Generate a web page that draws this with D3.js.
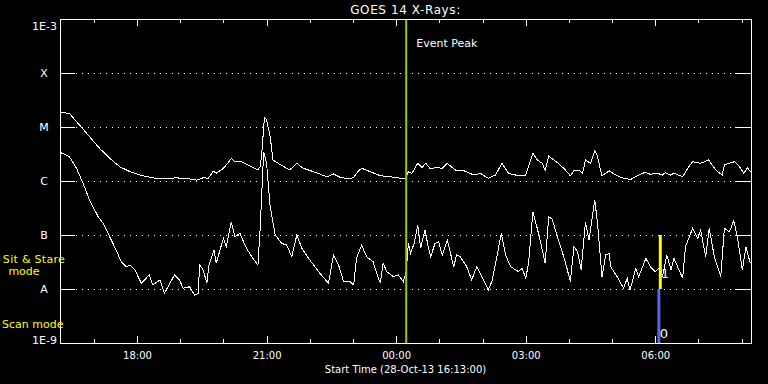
<!DOCTYPE html>
<html>
<head>
<meta charset="utf-8">
<script src="https://cdn.jsdelivr.net/npm/d3@7"></script>
<style>
  html, body { margin: 0; padding: 0; background: #000; }
  svg { display: block; }
  text { font-family: "DejaVu Sans", sans-serif; fill: #fff; }
</style>
</head>
<body>
<svg id="chart" width="768" height="384"></svg>
<script>
// GOES 14 X-ray flux, minutes after 28-Oct-13 16:13 UT
const longMinutes = [0,13,27,41,55,69,83,97,111,125,139,152,162,166,180,190,199,206,213,217,
  227,231,238,243,252,264,275,278,280,284,287,292,296,303,319,329,338,352,371,380,
  389,403,408,415,419,431,445,459,480,484,489,497,503,508,514,524,531,538,549,561,
  575,584,595,605,614,623,633,647,651,657,663,670,674,679,686,695,702,709,714,721,
  726,730,737,743,746,753,763,772,783,793,802,813,820,830,837,841,848,853,865,872,
  879,890,901,911,920,923,937,944,950,955,960];
const longFlux = [1.87e-5,1.79e-5,1.09e-5,6.6e-6,4.03e-6,2.63e-6,1.84e-6,1.49e-6,1.29e-6,1.17e-6,
  1.09e-6,1.09e-6,1.17e-6,1.12e-6,1.09e-6,1.04e-6,1.15e-6,1.12e-6,1.53e-6,1.39e-6,
  1.72e-6,1.98e-6,2.63e-6,2.28e-6,2.28e-6,1.90e-6,1.60e-6,1.84e-6,2.82e-6,1.51e-5,
  1.35e-5,6.6e-6,2.45e-6,2.13e-6,1.60e-6,2.13e-6,1.72e-6,1.49e-6,1.20e-6,1.35e-6,
  1.17e-6,1.09e-6,1.17e-6,1.55e-6,1.72e-6,1.49e-6,1.25e-6,1.20e-6,1.09e-6,1.49e-6,
  1.39e-6,2.13e-6,1.76e-6,2.13e-6,1.72e-6,1.76e-6,1.72e-6,2.13e-6,1.60e-6,1.55e-6,
  1.29e-6,1.39e-6,1.12e-6,1.29e-6,2.13e-6,1.39e-6,1.29e-6,1.29e-6,1.84e-6,3.26e-6,
  2.45e-6,2.13e-6,1.55e-6,2.90e-6,2.45e-6,1.98e-6,1.60e-6,1.25e-6,1.55e-6,1.60e-6,
  1.39e-6,2.45e-6,2.13e-6,3.64e-6,3.03e-6,1.25e-6,1.55e-6,1.29e-6,1.12e-6,1.07e-6,
  1.25e-6,1.45e-6,1.33e-6,1.39e-6,1.29e-6,1.43e-6,1.29e-6,1.39e-6,1.20e-6,1.72e-6,
  2.28e-6,2.13e-6,2.45e-6,1.60e-6,1.29e-6,1.98e-6,2.28e-6,1.84e-6,1.39e-6,1.76e-6,
  1.45e-6];

const shortMinutes = [0,13,23,32,41,53,60,69,78,85,92,97,104,113,124,129,139,145,159,166,
  171,180,187,192,194,199,204,207,214,217,227,231,238,243,250,259,268,275,278,283,
  287,292,299,308,315,322,329,336,347,361,373,380,387,394,403,408,412,419,426,435,
  440,445,449,454,463,470,477,481,484,487,492,497,501,507,512,515,521,526,531,538,
  547,551,556,565,572,579,586,595,600,607,613,619,626,637,642,647,651,657,663,667,
  674,679,684,691,702,709,714,719,724,730,735,743,747,753,758,763,765,774,783,788,
  792,800,804,814,820,827,834,837,843,849,853,865,869,879,886,890,897,902,909,918,
  923,930,936,941,948,953,959];
const shortFlux = [3.40e-6,2.82e-6,1.72e-6,9.06e-7,4.45e-7,2.18e-7,1.65e-7,9.3e-8,5.27e-8,3.2e-8,
  2.59e-8,2.78e-8,2.25e-8,1.28e-8,1.82e-8,1.19e-8,1.47e-8,8.3e-9,1.82e-8,1.47e-8,
  1.03e-8,1.10e-8,7.7e-9,8.3e-9,2.78e-8,2.25e-8,1.28e-8,2.78e-8,5.27e-8,2.99e-8,
  8.7e-8,6.07e-8,1.76e-7,9.3e-8,1.07e-7,5.67e-8,3.7e-8,2.78e-8,1.24e-7,3.49e-6,
  2.13e-6,3.34e-7,1.0e-7,7.0e-8,6.5e-8,3.96e-8,1.0e-7,5.67e-8,3.44e-8,1.95e-8,
  1.28e-8,4.26e-8,2.78e-8,1.37e-8,1.37e-8,1.19e-8,3.75e-8,6.5e-8,3.96e-8,3.2e-8,
  1.95e-8,1.28e-8,2.99e-8,2.09e-8,1.69e-8,1.82e-8,1.37e-8,2.09e-8,7.0e-8,4.58e-8,
  7.0e-8,1.53e-7,5.67e-8,1.24e-7,5.67e-8,3.96e-8,7.0e-8,7.5e-8,4.26e-8,8.1e-8,
  2.59e-8,4.26e-8,3.96e-8,2.59e-8,1.47e-8,2.59e-8,1.69e-8,9.6e-9,1.37e-8,3.96e-8,
  1.07e-7,4.26e-8,2.59e-8,2.09e-8,2.42e-8,1.58e-8,2.99e-8,2.7e-7,1.33e-7,8.1e-8,
  2.99e-8,2.18e-7,1.95e-7,9.3e-8,3.2e-8,1.37e-8,6.07e-8,4.91e-8,2.25e-8,1.76e-7,
  8.1e-8,4.45e-7,1.53e-7,1.69e-8,4.26e-8,4.58e-8,2.59e-8,1.69e-8,1.03e-8,1.58e-8,
  9.6e-9,2.42e-8,1.69e-8,3.7e-8,2.59e-8,2.09e-8,2.59e-8,1.69e-8,4.26e-8,2.25e-8,
  3.7e-8,1.58e-8,6.07e-8,1.33e-7,8.7e-8,1.24e-7,3.96e-8,1.33e-7,3.96e-8,1.69e-8,
  1.33e-7,1.15e-7,1.84e-7,9.3e-8,2.25e-8,6.07e-8,2.99e-8];

const yTickValues = [1e-3, 1e-4, 1e-5, 1e-6, 1e-7, 1e-8, 1e-9];
const yTickLabels = ['1E-3', 'X', 'M', 'C', 'B', 'A', '1E-9'];
const gridValues = [1e-4, 1e-5, 1e-6, 1e-7, 1e-8];

const startTime = Date.UTC(2013, 9, 28, 16, 13);
const spanMinutes = 960;
const eventPeakMinute = 481;
const sitStareMinute = 834;   // yellow bar, B..A
const scanMinute = 832;       // blue bar, A..1E-9

const margin = { top: 19, right: 17, bottom: 41, left: 60 };
const width = 768, height = 384;
const innerWidth = width - margin.left - margin.right;
const innerHeight = height - margin.top - margin.bottom;

const toDate = m => new Date(startTime + m * 60000);

const svg = d3.select('#chart');
svg.append('rect').attr('width', width).attr('height', height).attr('fill', '#000');

const x = d3.scaleUtc()
  .domain([toDate(0), toDate(spanMinutes)])
  .range([0, innerWidth]);

const y = d3.scaleLog()
  .domain([1e-9, 1e-3])
  .range([innerHeight, 0]);

const g = svg.append('g')
  .attr('transform', `translate(${margin.left}, ${margin.top})`);

// dotted grid lines at the flare classes
g.selectAll('.grid')
  .data(gridValues)
  .enter()
  .append('line')
  .attr('x1', 16).attr('x2', innerWidth - 16)
  .attr('y1', d => Math.round(y(d)) + 0.5)
  .attr('y2', d => Math.round(y(d)) + 0.5)
  .attr('stroke', '#fff')
  .attr('stroke-dasharray', '1,5')
  .attr('shape-rendering', 'crispEdges');

// left / right y axes, ticks only
const yLeft = g.append('g')
  .call(d3.axisLeft(y).tickValues(yTickValues).tickSize(-15).tickFormat((d, i) => yTickLabels[i]));
yLeft.select('.domain').remove();
yLeft.selectAll('.tick text')
  .attr('font-size', 11)
  .attr('font-family', '"DejaVu Sans", sans-serif')
  .attr('fill', '#fff')
  .attr('text-anchor', (d, i) => yTickLabels[i].length > 1 ? 'end' : 'middle')
  .attr('x', (d, i) => yTickLabels[i].length > 1 ? -3 : -16)
  .attr('dy', (d, i) => i === 0 ? '0.95em' : (i === yTickLabels.length - 1 ? '0em' : '0.36em'));

const yRight = g.append('g')
  .attr('transform', `translate(${innerWidth}, 0)`)
  .call(d3.axisRight(y).tickValues(yTickValues.slice(1, -1)).tickSize(-16));
yRight.select('.domain').remove();
yRight.selectAll('.tick text').remove();

// x axes: major every 3 h, minor every hour, top and bottom
const hourFmt = d3.utcFormat('%H:%M');
const xBottomMinor = g.append('g')
  .attr('transform', `translate(0, ${innerHeight})`)
  .call(d3.axisBottom(x).ticks(d3.utcHour.every(1)).tickSize(-4));
const xBottom = g.append('g')
  .attr('transform', `translate(0, ${innerHeight})`)
  .call(d3.axisBottom(x).ticks(d3.utcHour.every(3)).tickSize(-7).tickFormat(hourFmt));
xBottom.selectAll('.tick text')
  .attr('font-size', 10)
  .attr('font-family', '"DejaVu Sans", sans-serif')
  .attr('fill', '#fff')
  .attr('y', 16)
  .attr('dy', 0);
const xTopMinor = g.append('g')
  .call(d3.axisTop(x).ticks(d3.utcHour.every(1)).tickSize(-4));
const xTop = g.append('g')
  .call(d3.axisTop(x).ticks(d3.utcHour.every(3)).tickSize(-7));
[xBottomMinor, xTopMinor, xTop].forEach(a => a.selectAll('.tick text').remove());
[xBottomMinor, xBottom, xTopMinor, xTop].forEach(a => a.select('.domain').remove());
g.selectAll('.tick line').attr('stroke', '#fff').attr('shape-rendering', 'crispEdges');

// the two flux curves
const line = d3.line()
  .x(d => x(toDate(d[0])))
  .y(d => y(d[1]));

g.append('path')
  .attr('d', line(d3.zip(longMinutes, longFlux)))
  .attr('fill', 'none')
  .attr('stroke', '#fff')
  .attr('stroke-width', 1)
  .attr('shape-rendering', 'crispEdges');

g.append('path')
  .attr('d', line(d3.zip(shortMinutes, shortFlux)))
  .attr('fill', 'none')
  .attr('stroke', '#fff')
  .attr('stroke-width', 1)
  .attr('shape-rendering', 'crispEdges');

// event peak marker
g.append('line')
  .attr('x1', x(toDate(eventPeakMinute))).attr('x2', x(toDate(eventPeakMinute)))
  .attr('y1', 0).attr('y2', innerHeight)
  .attr('stroke', '#99cc00')
  .attr('stroke-width', 2);
g.append('text')
  .attr('x', x(toDate(eventPeakMinute)) + 10)
  .attr('y', 28)
  .attr('font-size', 11)
  .text('Event Peak');

// observing mode bars
g.append('line')
  .attr('x1', x(toDate(scanMinute))).attr('x2', x(toDate(scanMinute)))
  .attr('y1', y(1e-8)).attr('y2', y(1e-9))
  .attr('stroke', '#5a64f0')
  .attr('stroke-width', 3);
g.append('line')
  .attr('x1', x(toDate(sitStareMinute))).attr('x2', x(toDate(sitStareMinute)))
  .attr('y1', y(1e-7)).attr('y2', y(1e-8))
  .attr('stroke', '#ffff00')
  .attr('stroke-width', 3);
g.append('text')
  .attr('x', x(toDate(sitStareMinute)) + 1)
  .attr('y', y(1e-8) - 11)
  .attr('font-size', 12)
  .text('1');
g.append('text')
  .attr('x', x(toDate(scanMinute)) + 1)
  .attr('y', innerHeight - 5)
  .attr('font-size', 13)
  .text('0');

// frame
g.append('rect')
  .attr('x', 0.5).attr('y', 0.5)
  .attr('width', innerWidth).attr('height', innerHeight)
  .attr('fill', 'none')
  .attr('stroke', '#fff')
  .attr('shape-rendering', 'crispEdges');

// titles
svg.append('text')
  .attr('x', margin.left + innerWidth / 2)
  .attr('y', 14)
  .attr('text-anchor', 'middle')
  .attr('font-size', 12)
  .attr('letter-spacing', 0.6)
  .text('GOES 14 X-Rays:');

svg.append('text')
  .attr('x', margin.left + innerWidth / 2)
  .attr('y', 373)
  .attr('text-anchor', 'middle')
  .attr('font-size', 10)
  .text('Start Time (28-Oct-13 16:13:00)');

// mode labels
svg.append('text')
  .attr('x', 34).attr('y', 263)
  .attr('text-anchor', 'middle')
  .attr('font-size', 11)
  .attr('letter-spacing', 0.3)
  .style('fill', '#ffff00')
  .text('Sit & Stare');
svg.append('text')
  .attr('x', 24).attr('y', 275)
  .attr('text-anchor', 'middle')
  .attr('font-size', 11)
  .style('fill', '#ffff00')
  .text('mode');
svg.append('text')
  .attr('x', 2).attr('y', 328)
  .attr('font-size', 11)
  .style('fill', '#ffff00')
  .text('Scan mode');
</script>
</body>
</html>
